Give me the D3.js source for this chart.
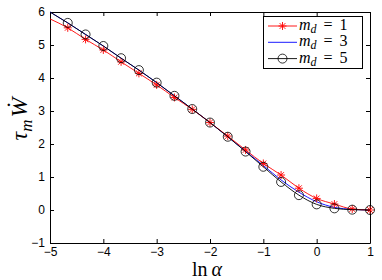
<!DOCTYPE html>
<html>
<head>
<meta charset="utf-8">
<script src="https://cdn.jsdelivr.net/npm/d3@7"></script>
<style>
  body { margin: 0; background: #fff; }
  svg { display: block; }
</style>
</head>
<body>
<div id="chart"></div>
<script>
var w = 382, h = 280;
var margin = {left: 50, right: 12, top: 12, bottom: 37};

// ln(alpha) grid
var lnAlpha = [-5, -4.667, -4.333, -4, -3.667, -3.333, -3, -2.667, -2.333, -2,
               -1.667, -1.333, -1, -0.667, -0.333, 0, 0.333, 0.667, 1];
// tau_m * W-dot for each m_d
var md1 = [5.79, 5.52, 5.17, 4.85, 4.49, 4.14, 3.79, 3.41, 3.05, 2.65,
           2.24, 1.82, 1.41, 1.06, 0.66, 0.35, 0.18, 0.03, 0.0];
var md3 = [6.0, 5.67, 5.32, 4.97, 4.60, 4.24, 3.86, 3.46, 3.06, 2.65,
           2.22, 1.78, 1.35, 0.91, 0.54, 0.25, 0.08, 0.02, 0.0];
var md5 = [6.0, 5.67, 5.32, 4.97, 4.60, 4.24, 3.86, 3.46, 3.06, 2.65,
           2.22, 1.77, 1.31, 0.85, 0.45, 0.17, 0.05, 0.01, 0.0];
var xTicks = [-5, -4, -3, -2, -1, 0, 1];
var yTicks = [-1, 0, 1, 2, 3, 4, 5, 6];
var legendLabels = ["1", "3", "5"];

var svg = d3.select("#chart").append("svg")
  .attr("width", w).attr("height", h);

var x = d3.scaleLinear().domain([-5, 1]).range([margin.left, w - margin.right]);
var y = d3.scaleLinear().domain([-1, 6]).range([h - margin.bottom, margin.top]);

var tickFont = "'Liberation Sans', Arial, sans-serif";
var mathFont = "'Liberation Serif', 'Times New Roman', serif";
var fmt = d3.format("d");

// box + ticks
function styleAxis(g) {
  g.selectAll("path, line").attr("stroke", "#000").attr("stroke-width", 1);
  g.selectAll("text").attr("font-family", tickFont).attr("font-size", 12).attr("fill", "#000");
}
svg.append("g").attr("transform", "translate(0," + y(-1) + ")")
  .call(d3.axisBottom(x).tickValues(xTicks).tickFormat(fmt).tickSizeInner(-4).tickSizeOuter(0).tickPadding(4))
  .call(styleAxis);
svg.append("g").attr("transform", "translate(0," + y(6) + ")")
  .call(d3.axisTop(x).tickValues(xTicks).tickSizeInner(-4).tickSizeOuter(0).tickFormat(""))
  .call(styleAxis);
svg.append("g").attr("transform", "translate(" + x(-5) + ",0)")
  .call(d3.axisLeft(y).tickValues(yTicks).tickFormat(fmt).tickSizeInner(-4).tickSizeOuter(0).tickPadding(5))
  .call(styleAxis);
svg.append("g").attr("transform", "translate(" + x(1) + ",0)")
  .call(d3.axisRight(y).tickValues(yTicks).tickSizeInner(-4).tickSizeOuter(0).tickFormat(""))
  .call(styleAxis);

var series = [
  {vals: md3, color: "#0000ff", marker: "none"},
  {vals: md1, color: "#ff0000", marker: "star"},
  {vals: md5, color: "#000000", marker: "circle"}
];

var line = d3.line()
  .x(function(d) { return x(d[0]); })
  .y(function(d) { return y(d[1]); })
  .curve(d3.curveMonotoneX);

function starPath(cx, cy, r) {
  var d = r * 0.72;
  return "M" + (cx - r) + "," + cy + "H" + (cx + r) +
         "M" + cx + "," + (cy - r) + "V" + (cy + r) +
         "M" + (cx - d) + "," + (cy - d) + "L" + (cx + d) + "," + (cy + d) +
         "M" + (cx - d) + "," + (cy + d) + "L" + (cx + d) + "," + (cy - d);
}

series.forEach(function(s) {
  var pts = lnAlpha.map(function(a, i) { return [a, s.vals[i]]; });
  svg.append("path").datum(pts)
    .attr("d", line).attr("fill", "none")
    .attr("stroke", s.color).attr("stroke-width", 0.9);
  var mk = pts.slice(1);
  if (s.marker == "star") {
    svg.append("g").selectAll("path").data(mk).enter().append("path")
      .attr("d", function(d) { return starPath(x(d[0]), y(d[1]), 4); })
      .attr("stroke", s.color).attr("stroke-width", 0.9).attr("fill", "none");
  } else if (s.marker == "circle") {
    svg.append("g").selectAll("circle").data(mk).enter().append("circle")
      .attr("cx", function(d) { return x(d[0]); })
      .attr("cy", function(d) { return y(d[1]); })
      .attr("r", 4.5)
      .attr("stroke", s.color).attr("stroke-width", 0.8).attr("fill", "none");
  }
});

// legend
var lg = svg.append("g");
lg.append("rect").attr("x", 263.5).attr("y", 16.5).attr("width", 99).attr("height", 52)
  .attr("fill", "#fff").attr("stroke", "#000").attr("stroke-width", 1);
var legendOrder = [series[1], series[0], series[2]];
legendOrder.forEach(function(s, i) {
  var cy = 26 + i * 16.3;
  lg.append("line").attr("x1", 268).attr("x2", 297).attr("y1", cy).attr("y2", cy)
    .attr("stroke", s.color).attr("stroke-width", 0.9);
  if (s.marker == "star") {
    lg.append("path").attr("d", starPath(282.5, cy, 4)).attr("stroke", s.color)
      .attr("stroke-width", 0.9).attr("fill", "none");
  } else if (s.marker == "circle") {
    lg.append("circle").attr("cx", 282.5).attr("cy", cy).attr("r", 4.5)
      .attr("stroke", s.color).attr("stroke-width", 0.8).attr("fill", "none");
  }
  var t = lg.append("text").attr("x", 299).attr("y", cy + 4)
    .attr("font-family", mathFont).attr("font-size", 16).attr("fill", "#000");
  t.append("tspan").attr("font-style", "italic").text("m");
  t.append("tspan").attr("font-style", "italic").attr("font-size", 12).attr("dy", 3).text("d");
  t.append("tspan").attr("dy", -3).attr("dx", 7).text("=");
  t.append("tspan").attr("dx", 7).text(legendLabels[i]);
});

// axis labels
var xl = svg.append("text").attr("x", 207).attr("y", 275.8).attr("text-anchor", "middle")
  .attr("font-family", mathFont).attr("font-size", 20).attr("fill", "#000");
xl.append("tspan").text("ln");
xl.append("tspan").attr("dx", 4).attr("font-style", "italic").text("α");

var yl = svg.append("text").attr("transform", "translate(27,119) rotate(-90)")
  .attr("text-anchor", "middle")
  .attr("font-family", mathFont).attr("font-size", 24).attr("fill", "#000");
yl.append("tspan").attr("font-style", "italic").text("τ");
yl.append("tspan").attr("font-style", "italic").attr("font-size", 17).attr("dy", 5).text("m");
yl.append("tspan").attr("font-style", "italic").attr("dy", -5).attr("dx", 2).text("Ẇ");
</script>
</body>
</html>
